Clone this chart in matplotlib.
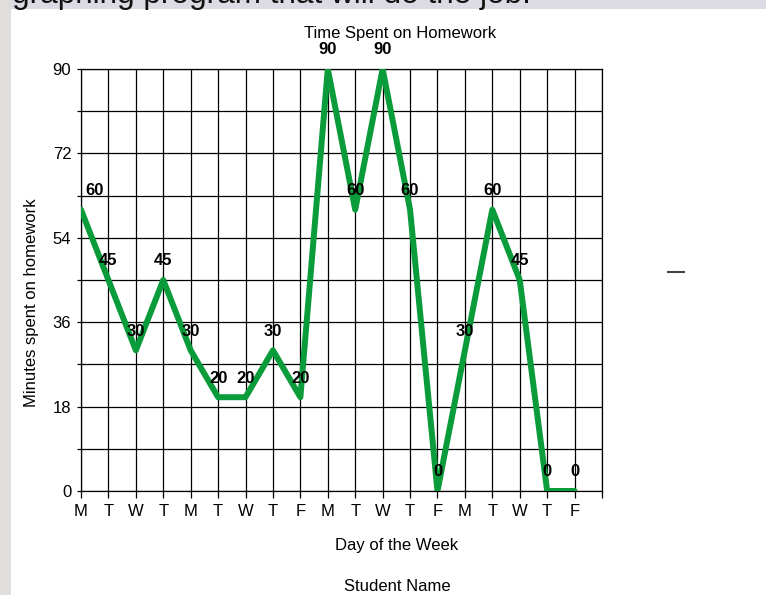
import matplotlib
matplotlib.use("Agg")
import matplotlib.pyplot as plt
from matplotlib.patches import Rectangle
from matplotlib.lines import Line2D
import numpy as np

plt.rcParams['font.family'] = ['Liberation Sans', 'DejaVu Sans']

days = ["M", "T", "W", "T", "M", "T", "W", "T", "F", "M",
        "T", "W", "T", "F", "M", "T", "W", "T", "F"]
minutes = [60, 45, 30, 45, 30, 20, 20, 30, 20, 90,
           60, 90, 60, 0, 30, 60, 45, 0, 0]
y_ticks = [0, 18, 36, 54, 72, 90]
y_minor = [9, 27, 45, 63, 81]

title = "Time Spent on Homework"
x_label = "Day of the Week"
y_label = "Minutes spent on homework"
sub_label = "Student Name"
slide_text = "graphing program that will do the job."

W, H = 766, 595
fig = plt.figure(figsize=(W / 100, H / 100), dpi=100)
fig.patch.set_facecolor('white')

# slide background strips
fig.patches.append(Rectangle((0, 1 - 9 / H), 1, 9 / H, transform=fig.transFigure,
                             facecolor='#dcdae2', edgecolor='none', zorder=0))
fig.patches.append(Rectangle((0, 0), 11 / W, 1, transform=fig.transFigure,
                             facecolor='#e0dedc', edgecolor='none', zorder=0))
fig.text(12 / W, 1 - 3 / H, slide_text, fontsize=22.7, color='#111111',
         ha='left', va='baseline')
# white slide area covering lower part of the slide text
fig.patches.append(Rectangle((11 / W, 0), 1, 1 - 9 / H, transform=fig.transFigure,
                             facecolor='white', edgecolor='none', zorder=1))

ax = fig.add_axes([81 / W, 1 - 491 / H, (602 - 81) / W, (491 - 69) / H])
ax.set_zorder(2)
x = np.arange(len(minutes))
ax.plot(x, minutes, color='#0a9b3a', lw=4.3, zorder=3, solid_capstyle='round')

for i, v in enumerate(minutes):
    if i == 0:
        ax.annotate(str(v), (i, v), xytext=(3, 10.5), textcoords='offset points',
                    ha='left', va='baseline', fontsize=12, fontweight='bold', zorder=4,
                    annotation_clip=False)
    else:
        ax.annotate(str(v), (i, v), xytext=(0, 10.5), textcoords='offset points',
                    ha='center', va='baseline', fontsize=12, fontweight='bold', zorder=4,
                    annotation_clip=False)

ax.set_xlim(0, len(minutes))
ax.set_ylim(0, 90)
ax.set_xticks(np.arange(len(minutes) + 1))
ax.set_xticklabels(days + [""])
ax.set_yticks(y_ticks)
ax.set_yticks(y_minor, minor=True)

ax.tick_params(axis='x', which='major', length=5, width=0.9, direction='out',
               pad=4, labelsize=12, color='black')
ax.tick_params(axis='y', which='both', length=3, width=0.9, direction='out',
               pad=4, labelsize=12, color='black')
ax.grid(True, axis='x', which='major', color='black', lw=0.9)
ax.grid(True, axis='y', which='both', color='black', lw=0.9)
ax.set_axisbelow(True)
for s in ax.spines.values():
    s.set_color('black')
    s.set_linewidth(0.9)

fig.text(400 / W, 1 - 38 / H, title, fontsize=12, ha='center', va='baseline')
fig.text(397 / W, 1 - 550 / H, x_label, fontsize=12, ha='center', va='baseline')
fig.text(397 / W, 1 - 591 / H, sub_label, fontsize=12, ha='center', va='baseline')
fig.text(32 / W, 1 - 303 / H, y_label, fontsize=12, rotation=90,
         ha='center', va='center')

fig.lines.append(Line2D([668 / W, 684 / W], [1 - 272 / H, 1 - 272 / H],
                        transform=fig.transFigure, color='#444444', lw=1.5))

fig.savefig("out.png", dpi=100)
